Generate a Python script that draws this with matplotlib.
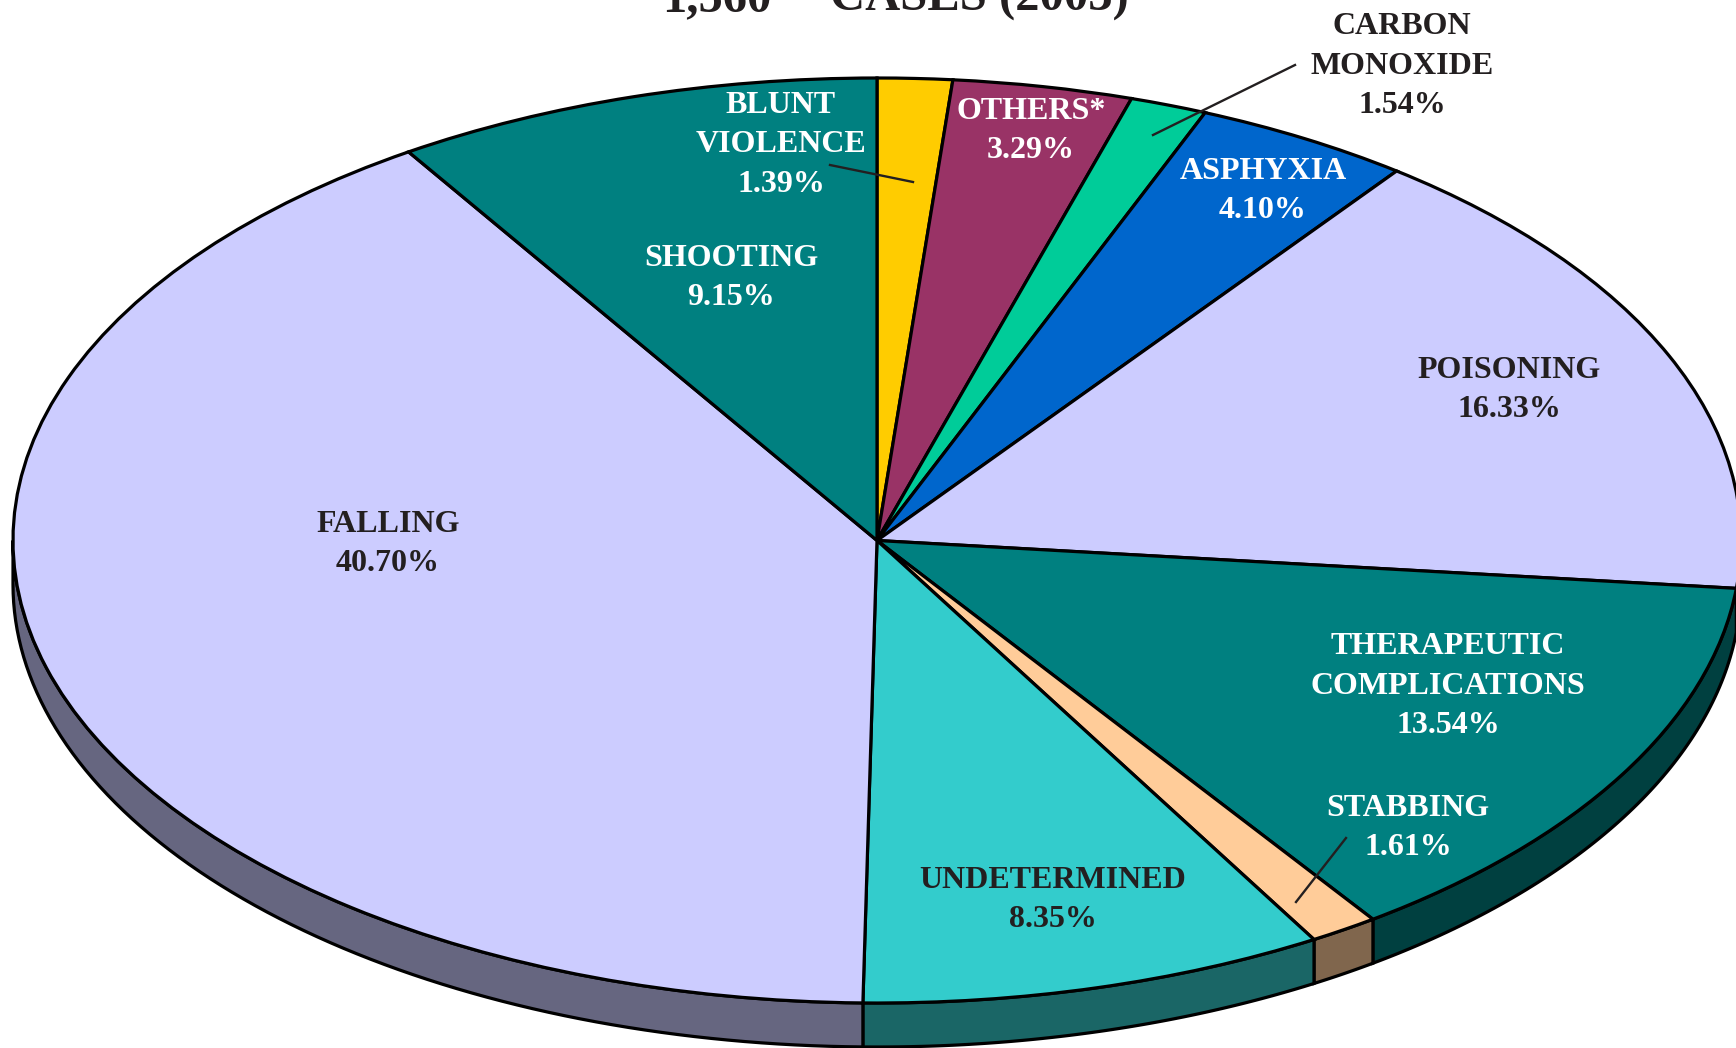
# -*- coding: utf-8 -*-
import numpy as np
import matplotlib
matplotlib.use('Agg')
import matplotlib.pyplot as plt
from matplotlib.lines import Line2D
from matplotlib.patches import Polygon

# clockwise from 12 o'clock
names = ['BLUNT\nVIOLENCE', 'OTHERS*', 'CARBON\nMONOXIDE', 'ASPHYXIA', 'POISONING',
         'THERAPEUTIC\nCOMPLICATIONS', 'STABBING', 'UNDETERMINED', 'FALLING', 'SHOOTING']
values = [1.39, 3.29, 1.54, 4.10, 16.33, 13.54, 1.61, 8.35, 40.70, 9.15]
# the slices as actually drawn in the picture differ a little from the printed percentages
slices = [1.40, 3.36, 1.44, 4.07, 16.38, 13.62, 1.29, 8.70, 40.62, 9.12]
colors = ['#FFCC00', '#993366', '#00CC99', '#0066CC', '#CCCCFF',
          '#008080', '#FFCC99', '#33CCCC', '#CCCCFF', '#008080']
side_colors = ['#806600', '#4D1A33', '#00664D', '#003366', '#666680',
               '#004040', '#80664D', '#1A6666', '#666680', '#004040']
title_count = '1,560'
title_rest = 'CASES (2003)'

W, H = 1736, 1048
cx, cy = 877, 540.5   # pie centre in pixels
rx, ry = 864, 462.5   # ellipse radii
depth = 44 / ry
dark = '#231F20'
edge = 2.3

plt.rcParams['font.family'] = ['Liberation Serif', 'DejaVu Serif']
plt.rcParams['font.weight'] = 'bold'

fig = plt.figure(figsize=(W / 100, H / 100), dpi=100, facecolor='white')
ax = fig.add_axes([0, 0, 1, 1])

# top face, squashed into an ellipse by the axes limits
ax.pie(slices, colors=colors, startangle=90, counterclock=False, radius=1,
       wedgeprops={'edgecolor': 'black', 'linewidth': edge})

# side wall, only the front half of the rim shows
total = sum(slices)
start = 0
for val, col in zip(slices, side_colors):
    a0 = start / total * 360
    a1 = (start + val) / total * 360
    start += val
    a0, a1 = max(a0, 90), min(a1, 270)
    if a1 <= a0:
        continue
    t = np.radians(np.linspace(a0, a1, 80))
    x, y = np.sin(t), np.cos(t)
    pts = np.r_[np.c_[x, y], np.c_[x[::-1], y[::-1] - depth]]
    ax.add_patch(Polygon(pts, closed=True, facecolor=col, edgecolor='black',
                         linewidth=edge, zorder=0.5))

ax.set_aspect('auto')
ax.set_xlim(-cx / rx, (W - cx) / rx)
ax.set_ylim(-(H - cy) / ry, cy / ry)
ax.axis('off')


def put(x, y, s, color=dark, size=23, **kw):
    fig.text(x / W, 1 - y / H, s, color=color, fontsize=size, ha='center', va='center',
             linespacing=1.46, fontweight='bold', **kw)


def leader(x0, y0, x1, y1):
    fig.add_artist(Line2D([x0 / W, x1 / W], [1 - y0 / H, 1 - y1 / H], color=dark, linewidth=1.7))


# label centres in pixels, same order as names
label_x = [781, 1031, 1402, 1263, 1509, 1448, 1408, 1053, 388, 731]
label_y = [145, 131, 66, 191, 390, 686, 828, 900, 544, 278]
label_c = ['white', 'white', dark, 'white', dark, 'white', 'white', dark, dark, 'white']
for name, val, x, y, c in zip(names, values, label_x, label_y, label_c):
    put(x, y, '%s\n%.2f%%' % (name, val), color=c)

leader(830, 165, 913, 182)
leader(1295, 65, 1153, 135)
leader(1346, 838, 1296, 902)

fig.text(717 / W, 1 - 11 / H, title_count, color=dark, fontsize=35, ha='center', va='baseline')
fig.text(979 / W, 1 - 11 / H, title_rest, color=dark, fontsize=35, ha='center', va='baseline')

fig.savefig('out.png', dpi=100)
